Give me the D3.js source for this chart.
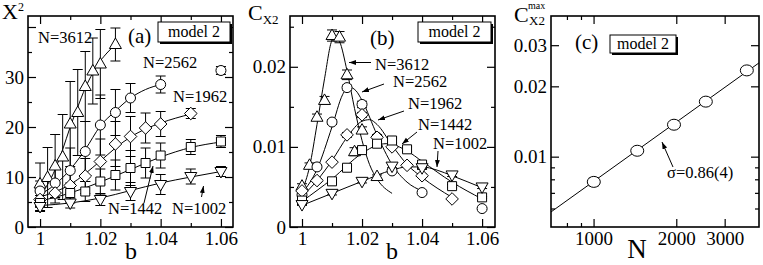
<!DOCTYPE html>
<html>
<head>
<meta charset="utf-8">
<script src="https://cdn.jsdelivr.net/npm/d3@7"></script>
<style>
body{margin:0;background:#fff}
</style>
</head>
<body>
<div id="chart"></div>
<script>
// b grids for each lattice size
const bN3612=[1,1.0025,1.005,1.0075,1.01,1.0125,1.015,1.0175,1.02,1.025]
const bN2562=[1,1.005,1.01,1.015,1.02,1.025,1.03,1.04,1.06]
const bN1962=[1,1.005,1.01,1.015,1.02,1.025,1.03,1.035,1.04,1.05]
const bN1442=[1,1.01,1.015,1.02,1.025,1.03,1.035,1.04,1.05,1.06]
const bN1002=[1,1.01,1.02,1.03,1.04,1.05,1.06]

// (a) X^2 and errors
const chi3612=[8.6,9.9,12.2,14.0,20.6,22.9,28.1,31.2,32.6,36.5]
const chi3612Err=[4.2,6,6.3,8.5,8.5,8.6,7,6.6,6.9,3.3]
const chi2562=[7.2,8.8,11.3,15.1,20.4,22.9,25.8,28.5,31.3]
const chi2562Err=[2,3,4.5,6,6,4.6,2.9,1.7,0.8]
const chi1962=[5.5,6.8,8.3,10.2,13.1,16.6,18.1,19.8,20.6,22.7]
const chi1962Err=[1.5,2,3,3.5,4.5,4.5,4,3,2.5,1]
const chi1442=[4.8,6.8,7.1,9.1,10.4,11.8,12.8,14.3,16.0,17.1]
const chi1442Err=[1.5,2,2,2.5,3,3.5,3,2.5,1.5,1.2]
const chi1002=[4.1,4.8,5.5,7.1,8.5,10.1,11.1]
const chi1002Err=[1,1,1.2,1.8,2,1.5,1]

// (a) fitted curves
const fitA3612B=[1,1.0025,1.005,1.0075,1.01,1.0125,1.015,1.0175,1.02,1.0225,1.025]
const fitA3612V=[6.5,8.5,11.5,15.5,20,24,27.8,30.8,33.2,35,36.5]
const fitA2562B=[1,1.005,1.01,1.015,1.02,1.025,1.03,1.035,1.04]
const fitA2562V=[6.5,8.5,11.5,15.5,20.2,23.2,25.8,27.5,28.5]
const fitA1962B=[1,1.01,1.02,1.025,1.03,1.035,1.04,1.05]
const fitA1962V=[6,8.5,13.2,15.8,18,19.6,20.8,22.6]
const fitA1442B=[1,1.01,1.02,1.03,1.04,1.05,1.06]
const fitA1442V=[5.2,6.8,9.0,11.5,14.0,15.9,17.0]
const fitA1002B=[1,1.01,1.02,1.03,1.04,1.05,1.06]
const fitA1002V=[4.3,4.8,5.8,7.3,8.8,10.0,11.1]

// (b) C_X2 and errors
const c3612=[0.0051,0.0077,0.0137,0.0158,0.0239,0.0237,0.0190,0.0094,0.0121,0.0063]
const c3612Err=[0.0003,0.0003,0.0004,0.0005,0.0007,0.0007,0.0006,0.0005,0.0004,0.0002]
const c2562=[0.0040,0.0075,0.0131,0.0174,0.0153,0.0112,0.0070,0.0043,0.0023]
const c2562Err=[0.0002,0.0002,0.0003,0.0003,0.0004,0.0003,0.0002,0.0002,0.0001]
const c1962=[0.0045,0.0058,0.0081,0.0115,0.0140,0.0112,0.0100,0.0077,0.0064,0.0035]
const c1962Err=[0.0002,0.0002,0.0002,0.0003,0.0003,0.0003,0.0002,0.0002,0.0002,0.0001]
const c1442=[0.0033,0.0057,0.0074,0.0096,0.0104,0.0108,0.0097,0.0078,0.0051,0.0037]
const c1442Err=[0.0002,0.0002,0.0002,0.0003,0.0003,0.0003,0.0003,0.0002,0.0002,0.0001]
const c1002=[0.0028,0.0042,0.0057,0.0076,0.0074,0.0065,0.0050]
const c1002Err=[0.0001,0.0002,0.0002,0.0002,0.0002,0.0002,0.0002]

// (b) fitted curves
const fitB3612B=[1,1.0025,1.005,1.0075,1.01,1.0115,1.0125,1.015,1.0175,1.02,1.0225,1.025,1.03]
const fitB3612C=[0.0045,0.0075,0.0128,0.0185,0.0233,0.0238,0.0232,0.0195,0.0148,0.0108,0.0078,0.0060,0.0042]
const fitB2562B=[1,1.005,1.01,1.0135,1.0155,1.018,1.02,1.025,1.03,1.035,1.04]
const fitB2562C=[0.0042,0.0072,0.0125,0.0165,0.0175,0.0170,0.0158,0.0115,0.0078,0.0056,0.0045]
const fitB1962B=[1,1.005,1.01,1.015,1.02,1.0225,1.025,1.03,1.035,1.04,1.05]
const fitB1962C=[0.0038,0.0058,0.0083,0.0112,0.0132,0.0134,0.0128,0.0102,0.0078,0.0062,0.0037]
const fitB1442B=[1,1.01,1.02,1.025,1.028,1.03,1.035,1.04,1.05,1.06]
const fitB1442C=[0.0032,0.0060,0.0092,0.0102,0.0104,0.0103,0.0095,0.0082,0.0056,0.0035]
const fitB1002B=[1,1.01,1.02,1.03,1.035,1.04,1.045,1.05,1.06]
const fitB1002C=[0.0027,0.0042,0.0057,0.0071,0.0075,0.0075,0.0071,0.0064,0.0049]

// (c) C_X2^max vs N
const sizesN=[1002,1442,1962,2562,3612]
const cMax=[0.0078,0.0106,0.0137,0.0172,0.0234]
const cMaxErr=[0.0003,0.0003,0.0003,0.0004,0.0006]
const fitCN=[700,4000]
const fitCC=[0.0058,0.0252]

const bTicks=[1,1.02,1.04,1.06]
const bMinor=[1.01,1.03,1.05]

const W=763, H=265
const FONT='"Liberation Serif"'
const svg=d3.select('#chart').append('svg').attr('width',W).attr('height',H)

svg.append('defs').append('marker')
    .attr('id','arr').attr('viewBox','0 0 10 10')
    .attr('refX',10).attr('refY',5)
    .attr('markerWidth',7).attr('markerHeight',7)
    .attr('markerUnits','userSpaceOnUse').attr('orient','auto')
  .append('path').attr('d','M0,1.5L10,5L0,8.5z').attr('fill','#000')

const shapes={
    up:'M0,-6.5L6,4L-6,4Z',
    down:'M0,6.5L6,-4L-6,-4Z',
    square:'M-4.5,-4.5H4.5V4.5H-4.5Z',
    diamond:'M0,-6.3L6.3,0L0,6.3L-6.3,0Z',
    circle:'M5,0A5,5 0 1,1 -5,0A5,5 0 1,1 5,0Z'
}

function axis(g, gen, tr, labels){
    const a=g.append('g').attr('transform',tr).call(gen)
    a.select('.domain').remove()
    a.attr('font-family',null).attr('font-size',null)
    a.selectAll('line').attr('stroke','#000').attr('stroke-width',1.2)
    if(!labels) a.selectAll('text').remove()
    else a.selectAll('text').style('font-family',FONT).style('font-size','19px').attr('fill','#000')
    return a
}

function frame(g, x, y, o){
    const [x0,x1]=x.range(), [y0,y1]=y.range()
    axis(g, d3.axisBottom(x).tickValues(o.xMajor).tickFormat(o.xFmt).tickSizeInner(-8).tickSizeOuter(0).tickPadding(5), `translate(0,${y0})`, true)
    axis(g, d3.axisBottom(x).tickValues(o.xMinor).tickFormat('').tickSizeInner(-4).tickSizeOuter(0), `translate(0,${y0})`, false)
    axis(g, d3.axisTop(x).tickValues(o.xMajor).tickSizeInner(-8).tickSizeOuter(0), `translate(0,${y1})`, false)
    axis(g, d3.axisTop(x).tickValues(o.xMinor).tickSizeInner(-4).tickSizeOuter(0), `translate(0,${y1})`, false)
    axis(g, d3.axisLeft(y).tickValues(o.yMajor).tickFormat(o.yFmt).tickSizeInner(-8).tickSizeOuter(0).tickPadding(4), `translate(${x0},0)`, true)
    axis(g, d3.axisLeft(y).tickValues(o.yMinor).tickFormat('').tickSizeInner(-4).tickSizeOuter(0), `translate(${x0},0)`, false)
    axis(g, d3.axisRight(y).tickValues(o.yMajor).tickSizeInner(-8).tickSizeOuter(0), `translate(${x1},0)`, false)
    axis(g, d3.axisRight(y).tickValues(o.yMinor).tickSizeInner(-4).tickSizeOuter(0), `translate(${x1},0)`, false)
    g.append('rect').attr('x',x0).attr('y',y1).attr('width',x1-x0).attr('height',y0-y1)
        .attr('fill','none').attr('stroke','#000').attr('stroke-width',1.6)
}

function series(g, x, y, xs, ys, es){
    const pts=xs.map((d,i)=>({x:d,y:ys[i],e:es[i]}))
    const eb=g.append('g').attr('stroke','#000').attr('stroke-width',1)
    pts.forEach(p=>{
        const px=x(p.x), lo=y(p.y-p.e), hi=y(p.y+p.e)
        eb.append('line').attr('x1',px).attr('x2',px).attr('y1',lo).attr('y2',hi)
        eb.append('line').attr('x1',px-5).attr('x2',px+5).attr('y1',lo).attr('y2',lo)
        eb.append('line').attr('x1',px-5).attr('x2',px+5).attr('y1',hi).attr('y2',hi)
    })
    return pts
}
function symbols(g, x, y, pts, shape){
    g.append('g').selectAll('path').data(pts).join('path')
        .attr('d',shapes[shape])
        .attr('transform',d=>`translate(${x(d.x)},${y(d.y)})`)
        .attr('fill','#fff').attr('stroke','#000').attr('stroke-width',1)
}
function fit(g, x, y, xs, ys){
    g.append('path').datum(xs.map((d,i)=>[d,ys[i]]))
        .attr('d',d3.line().x(d=>x(d[0])).y(d=>y(d[1])).curve(d3.curveMonotoneX))
        .attr('fill','none').attr('stroke','#000').attr('stroke-width',1)
}
function text(g, s, px, py, size, anchor){
    return g.append('text').attr('x',px).attr('y',py)
        .style('font-family',FONT).style('font-size',size+'px')
        .attr('text-anchor',anchor||'start').text(s)
}
function arrow(g, x1, y1, x2, y2){
    g.append('line').attr('x1',x1).attr('y1',y1).attr('x2',x2).attr('y2',y2)
        .attr('stroke','#000').attr('stroke-width',1).attr('marker-end','url(#arr)')
}
function modelBox(g, px, py, w, h){
    g.append('rect').attr('x',px+2).attr('y',py+2).attr('width',w).attr('height',h).attr('fill','#000')
    g.append('rect').attr('x',px).attr('y',py).attr('width',w).attr('height',h)
        .attr('fill','#fff').attr('stroke','#000').attr('stroke-width',1)
    text(g,'model 2',px+w/2,py+h/2+5,16,'middle')
}

const bFmt=d=>d===1?'1':d3.format('.2f')(d)

// ---------- panel (a)
const ga=svg.append('g')
const xa=d3.scaleLinear().domain([0.996,1.064]).range([28,233])
const ya=d3.scaleLinear().domain([0,42.2]).range([227,16])
frame(ga,xa,ya,{xMajor:bTicks,xMinor:bMinor,xFmt:bFmt,yMajor:[0,10,20,30,40],yMinor:[5,15,25,35],yFmt:d=>d===40?'':d})
const aSets=[
    [bN3612,chi3612,chi3612Err,'up'],
    [bN2562,chi2562,chi2562Err,'circle'],
    [bN1962,chi1962,chi1962Err,'diamond'],
    [bN1442,chi1442,chi1442Err,'square'],
    [bN1002,chi1002,chi1002Err,'down']
]
const aPts=aSets.map(s=>series(ga,xa,ya,s[0],s[1],s[2]))
fit(ga,xa,ya,fitA3612B,fitA3612V)
fit(ga,xa,ya,fitA2562B,fitA2562V)
fit(ga,xa,ya,fitA1962B,fitA1962V)
fit(ga,xa,ya,fitA1442B,fitA1442V)
fit(ga,xa,ya,fitA1002B,fitA1002V)
aPts.forEach((p,i)=>symbols(ga,xa,ya,p,aSets[i][3]))
text(ga,'N=3612',38,43,16.5)
text(ga,'(a)',128,43,21)
modelBox(ga,158,22,72,20)
text(ga,'N=2562',143,68,16.5)
text(ga,'N=1962',173,102,16.5)
text(ga,'N=1442',108,214,16.5)
text(ga,'N=1002',172,214,16.5)
arrow(ga,144,203,153,166)
arrow(ga,201.5,197,203.5,186)
text(ga,'X',2,19,22).append('tspan').style('font-size','12px').attr('dy',-8).text('2')
text(ga,'b',131,259,24,'middle')

// ---------- panel (b)
const gb=svg.append('g')
const xb=d3.scaleLinear().domain([0.996,1.0643]).range([290,495])
const yb=d3.scaleLinear().domain([0,0.02634]).range([227,16])
frame(gb,xb,yb,{xMajor:bTicks,xMinor:bMinor,xFmt:bFmt,yMajor:[0,0.01,0.02],yMinor:[0.005,0.015,0.025],yFmt:d=>d===0?'0':d3.format('.2f')(d)})
const bSets=[
    [bN3612,c3612,c3612Err,'up'],
    [bN2562,c2562,c2562Err,'circle'],
    [bN1962,c1962,c1962Err,'diamond'],
    [bN1442,c1442,c1442Err,'square'],
    [bN1002,c1002,c1002Err,'down']
]
const bPts=bSets.map(s=>series(gb,xb,yb,s[0],s[1],s[2]))
fit(gb,xb,yb,fitB3612B,fitB3612C)
fit(gb,xb,yb,fitB2562B,fitB2562C)
fit(gb,xb,yb,fitB1962B,fitB1962C)
fit(gb,xb,yb,fitB1442B,fitB1442C)
fit(gb,xb,yb,fitB1002B,fitB1002C)
bPts.forEach((p,i)=>symbols(gb,xb,yb,p,bSets[i][3]))
text(gb,'(b)',370,45,21)
modelBox(gb,418,22,73,20)
text(gb,'N=3612',375,70,16.5)
text(gb,'N=2562',393,87,16.5)
text(gb,'N=1962',408,109,16.5)
text(gb,'N=1442',418,130,16.5)
text(gb,'N=1002',433,149,16.5)
arrow(gb,371,62.5,349,62.5)
arrow(gb,384,84,362,92)
arrow(gb,404,111,378,120)
arrow(gb,417,132,402,144)
arrow(gb,438,151,437,167)
text(gb,'C',248,20,22).append('tspan').style('font-size','13px').attr('dy',4).text('X2')
text(gb,'b',392,259,24,'middle')

// ---------- panel (c)
const gc=svg.append('g')
const xc=d3.scaleLog().domain([700,4000]).range([551,759])
const yc=d3.scaleLog().domain([0.005,0.04]).range([227,16])
gc.append('clipPath').attr('id','clipc').append('rect').attr('x',551).attr('y',16).attr('width',208).attr('height',211)
frame(gc,xc,yc,{xMajor:[1000,2000,3000],xMinor:[800,900],xFmt:d3.format('d'),yMajor:[0.01,0.02,0.03],yMinor:[0.006,0.007,0.008,0.009],yFmt:d3.format('.2f')})
gc.append('path').datum(fitCN.map((d,i)=>[d,fitCC[i]]))
    .attr('clip-path','url(#clipc)')
    .attr('d',d3.line().x(d=>xc(d[0])).y(d=>yc(d[1])))
    .attr('fill','none').attr('stroke','#000').attr('stroke-width',1)
const cPts=series(gc,xc,yc,sizesN,cMax,cMaxErr)
gc.append('g').selectAll('ellipse').data(cPts).join('ellipse')
    .attr('cx',d=>xc(d.x)).attr('cy',d=>yc(d.y)).attr('rx',6.5).attr('ry',5.5)
    .attr('fill','#fff').attr('stroke','#000').attr('stroke-width',1)
text(gc,'(c)',575,49,21)
modelBox(gc,610,35,66,18)
text(gc,'\u03c3=0.86(4)',667,178,16.5)
arrow(gc,673,167,662,142)
text(gc,'C',514,22,22)
text(gc,'X2',529,25,13)
text(gc,'max',528,9,10)
text(gc,'N',637,258,27,'middle')
</script>
</body>
</html>
